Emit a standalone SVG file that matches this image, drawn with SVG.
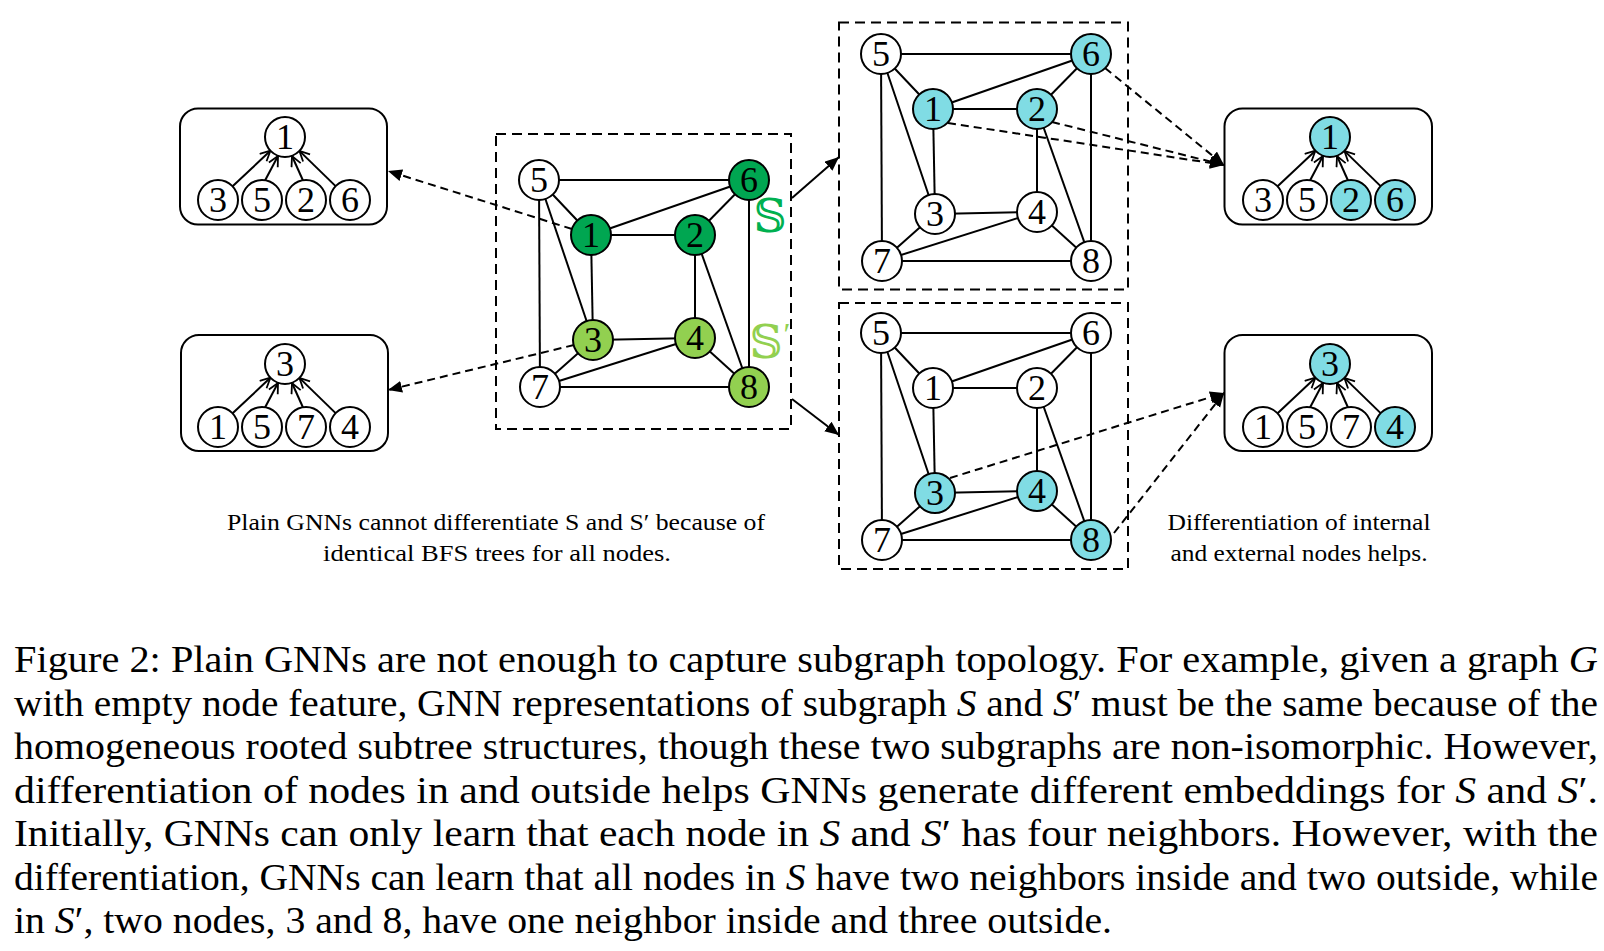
<svg xmlns="http://www.w3.org/2000/svg" width="1604" height="951" viewBox="0 0 1604 951" font-family="Liberation Serif, Tinos, Times New Roman, serif">
<style>
.n{stroke:#000;stroke-width:2;fill:#fff}
.dg{fill:#00A651}
.lg{fill:#92D050}
.cy{fill:#80DCE4}
.t{font-size:36px;text-anchor:middle;fill:#000}
.e{stroke:#000;stroke-width:2;fill:none}
.dbox{stroke:#000;stroke-width:2;fill:none;stroke-dasharray:10 6}
.tbox{stroke:#000;stroke-width:2;fill:#fff}
.da{stroke:#000;stroke-width:2;fill:none;stroke-dasharray:8 5}
.ta{stroke:#000;stroke-width:2;fill:none;marker-end:url(#open)}
.cap{font-size:38px;fill:#000}
.sub{font-size:23px;fill:#000;text-anchor:middle}
.it{font-style:italic}
</style>
<defs>
<marker id="open" markerUnits="userSpaceOnUse" markerWidth="14" markerHeight="14" refX="11" refY="6" orient="auto"><path d="M1,1 L11,6 L1,11" fill="none" stroke="#000" stroke-width="1.8"/></marker>
<marker id="fill" markerUnits="userSpaceOnUse" markerWidth="16" markerHeight="14" refX="14" refY="6" orient="auto"><path d="M0,0 L14,6 L0,12 z" fill="#000"/></marker>
</defs>

<!-- dashed frames -->
<g id="frames">
<rect class="dbox" x="496" y="134" width="295" height="295"/>
<rect class="dbox" x="839" y="22.5" width="289" height="267"/>
<rect class="dbox" x="839" y="303" width="289" height="266"/>
</g>

<!-- connectors -->
<g id="connectors">
<g id="edges-center">
<line class="e" x1="539" y1="180" x2="749" y2="180"/>
<line class="e" x1="539" y1="180" x2="591" y2="235"/>
<line class="e" x1="539" y1="180" x2="593" y2="340"/>
<line class="e" x1="539" y1="180" x2="540" y2="387"/>
<line class="e" x1="591" y1="235" x2="749" y2="180"/>
<line class="e" x1="591" y1="235" x2="695" y2="235"/>
<line class="e" x1="591" y1="235" x2="593" y2="340"/>
<line class="e" x1="695" y1="235" x2="749" y2="180"/>
<line class="e" x1="695" y1="235" x2="695" y2="338"/>
<line class="e" x1="695" y1="235" x2="749" y2="387"/>
<line class="e" x1="749" y1="180" x2="749" y2="387"/>
<line class="e" x1="593" y1="340" x2="695" y2="338"/>
<line class="e" x1="593" y1="340" x2="540" y2="387"/>
<line class="e" x1="695" y1="338" x2="540" y2="387"/>
<line class="e" x1="695" y1="338" x2="749" y2="387"/>
<line class="e" x1="540" y1="387" x2="749" y2="387"/>
</g>
<g id="edges-top">
<line class="e" x1="881" y1="54" x2="1091" y2="54"/>
<line class="e" x1="881" y1="54" x2="933" y2="109"/>
<line class="e" x1="881" y1="54" x2="935" y2="214"/>
<line class="e" x1="881" y1="54" x2="882" y2="261"/>
<line class="e" x1="933" y1="109" x2="1091" y2="54"/>
<line class="e" x1="933" y1="109" x2="1037" y2="109"/>
<line class="e" x1="933" y1="109" x2="935" y2="214"/>
<line class="e" x1="1037" y1="109" x2="1091" y2="54"/>
<line class="e" x1="1037" y1="109" x2="1037" y2="212"/>
<line class="e" x1="1037" y1="109" x2="1091" y2="261"/>
<line class="e" x1="1091" y1="54" x2="1091" y2="261"/>
<line class="e" x1="935" y1="214" x2="1037" y2="212"/>
<line class="e" x1="935" y1="214" x2="882" y2="261"/>
<line class="e" x1="1037" y1="212" x2="882" y2="261"/>
<line class="e" x1="1037" y1="212" x2="1091" y2="261"/>
<line class="e" x1="882" y1="261" x2="1091" y2="261"/>
</g>
<g id="edges-bottom">
<line class="e" x1="881" y1="333" x2="1091" y2="333"/>
<line class="e" x1="881" y1="333" x2="933" y2="388"/>
<line class="e" x1="881" y1="333" x2="935" y2="493"/>
<line class="e" x1="881" y1="333" x2="882" y2="540"/>
<line class="e" x1="933" y1="388" x2="1091" y2="333"/>
<line class="e" x1="933" y1="388" x2="1037" y2="388"/>
<line class="e" x1="933" y1="388" x2="935" y2="493"/>
<line class="e" x1="1037" y1="388" x2="1091" y2="333"/>
<line class="e" x1="1037" y1="388" x2="1037" y2="491"/>
<line class="e" x1="1037" y1="388" x2="1091" y2="540"/>
<line class="e" x1="1091" y1="333" x2="1091" y2="540"/>
<line class="e" x1="935" y1="493" x2="1037" y2="491"/>
<line class="e" x1="935" y1="493" x2="882" y2="540"/>
<line class="e" x1="1037" y1="491" x2="882" y2="540"/>
<line class="e" x1="1037" y1="491" x2="1091" y2="540"/>
<line class="e" x1="882" y1="540" x2="1091" y2="540"/>
</g>
<line class="da" x1="572" y1="229" x2="388" y2="171" marker-end="url(#fill)"/>
<line class="da" x1="574" y1="345" x2="388" y2="390" marker-end="url(#fill)"/>
<line class="da" x1="1105" y1="68" x2="1224" y2="165" marker-end="url(#fill)"/>
<line class="da" x1="948" y1="123" x2="1224" y2="165" marker-end="url(#fill)"/>
<line class="da" x1="1052" y1="122" x2="1224" y2="165" marker-end="url(#fill)"/>
<line class="da" x1="950" y1="478" x2="1224" y2="393" marker-end="url(#fill)"/>
<line class="da" x1="1114" y1="533" x2="1224" y2="393" marker-end="url(#fill)"/>
<line class="e" x1="792" y1="198" x2="839" y2="157" marker-end="url(#fill)"/>
<line class="e" x1="792" y1="399" x2="839" y2="435" marker-end="url(#fill)"/>
</g>

<!-- center graph nodes -->
<g id="c5"><circle class="n" cx="539" cy="180" r="20"/><text class="t" x="539" y="192">5</text></g>
<g id="c6"><circle class="n dg" cx="749" cy="180" r="20"/><text class="t" x="749" y="192">6</text></g>
<g id="c1"><circle class="n dg" cx="591" cy="235" r="20"/><text class="t" x="591" y="247">1</text></g>
<g id="c2"><circle class="n dg" cx="695" cy="235" r="20"/><text class="t" x="695" y="247">2</text></g>
<g id="c3"><circle class="n lg" cx="593" cy="340" r="20"/><text class="t" x="593" y="352">3</text></g>
<g id="c4"><circle class="n lg" cx="695" cy="338" r="20"/><text class="t" x="695" y="350">4</text></g>
<g id="c7"><circle class="n" cx="540" cy="387" r="20"/><text class="t" x="540" y="399">7</text></g>
<g id="c8"><circle class="n lg" cx="749" cy="387" r="20"/><text class="t" x="749" y="399">8</text></g>
<g id="labelS"><text x="770" y="232" font-family="DejaVu Serif, DejaVu Sans, serif" font-size="46" fill="#00B050" text-anchor="middle">𝕊</text></g>
<g id="labelS2"><text x="766" y="358" font-family="DejaVu Serif, DejaVu Sans, serif" font-size="46" fill="#92D050" text-anchor="middle">𝕊</text><text x="787" y="345" font-size="32" fill="#92D050" text-anchor="middle">′</text></g>

<!-- top-right graph nodes -->
<g id="t5"><circle class="n" cx="881" cy="54" r="20"/><text class="t" x="881" y="66">5</text></g>
<g id="t6"><circle class="n cy" cx="1091" cy="54" r="20"/><text class="t" x="1091" y="66">6</text></g>
<g id="t1"><circle class="n cy" cx="933" cy="109" r="20"/><text class="t" x="933" y="121">1</text></g>
<g id="t2"><circle class="n cy" cx="1037" cy="109" r="20"/><text class="t" x="1037" y="121">2</text></g>
<g id="t3"><circle class="n" cx="935" cy="214" r="20"/><text class="t" x="935" y="226">3</text></g>
<g id="t4"><circle class="n" cx="1037" cy="212" r="20"/><text class="t" x="1037" y="224">4</text></g>
<g id="t7"><circle class="n" cx="882" cy="261" r="20"/><text class="t" x="882" y="273">7</text></g>
<g id="t8"><circle class="n" cx="1091" cy="261" r="20"/><text class="t" x="1091" y="273">8</text></g>

<!-- bottom-right graph nodes -->
<g id="b5"><circle class="n" cx="881" cy="333" r="20"/><text class="t" x="881" y="345">5</text></g>
<g id="b6"><circle class="n" cx="1091" cy="333" r="20"/><text class="t" x="1091" y="345">6</text></g>
<g id="b1"><circle class="n" cx="933" cy="388" r="20"/><text class="t" x="933" y="400">1</text></g>
<g id="b2"><circle class="n" cx="1037" cy="388" r="20"/><text class="t" x="1037" y="400">2</text></g>
<g id="b3"><circle class="n cy" cx="935" cy="493" r="20"/><text class="t" x="935" y="505">3</text></g>
<g id="b4"><circle class="n cy" cx="1037" cy="491" r="20"/><text class="t" x="1037" y="503">4</text></g>
<g id="b7"><circle class="n" cx="882" cy="540" r="20"/><text class="t" x="882" y="552">7</text></g>
<g id="b8"><circle class="n cy" cx="1091" cy="540" r="20"/><text class="t" x="1091" y="552">8</text></g>

<!-- tree: top-left -->
<g id="tree-tl">
<rect class="tbox" x="180" y="108.5" width="207" height="116" rx="18"/>
<line class="ta" x1="232.6" y1="186.3" x2="270.4" y2="150.7"/>
<line class="ta" x1="265" y1="180.5" x2="278" y2="156"/>
<line class="ta" x1="303" y1="180.5" x2="292" y2="156"/>
<line class="ta" x1="335.6" y1="186.1" x2="299.4" y2="150.9"/>
<circle class="n" cx="285" cy="137" r="20"/><text class="t" x="285" y="149">1</text>
<circle class="n" cx="218" cy="200" r="20"/><text class="t" x="218" y="212">3</text>
<circle class="n" cx="262" cy="200" r="20"/><text class="t" x="262" y="212">5</text>
<circle class="n" cx="306" cy="200" r="20"/><text class="t" x="306" y="212">2</text>
<circle class="n" cx="350" cy="200" r="20"/><text class="t" x="350" y="212">6</text>
</g>
<!-- tree: bottom-left -->
<g id="tree-bl">
<rect class="tbox" x="181" y="335" width="207" height="116" rx="18"/>
<line class="ta" x1="232.6" y1="413.3" x2="270.4" y2="377.7"/>
<line class="ta" x1="265" y1="407.5" x2="278" y2="383"/>
<line class="ta" x1="303" y1="407.5" x2="292" y2="383"/>
<line class="ta" x1="335.6" y1="413.1" x2="299.4" y2="377.9"/>
<circle class="n" cx="285" cy="364" r="20"/><text class="t" x="285" y="376">3</text>
<circle class="n" cx="218" cy="427" r="20"/><text class="t" x="218" y="439">1</text>
<circle class="n" cx="262" cy="427" r="20"/><text class="t" x="262" y="439">5</text>
<circle class="n" cx="306" cy="427" r="20"/><text class="t" x="306" y="439">7</text>
<circle class="n" cx="350" cy="427" r="20"/><text class="t" x="350" y="439">4</text>
</g>
<!-- tree: top-right -->
<g id="tree-tr">
<rect class="tbox" x="1224.5" y="108.5" width="207.5" height="116" rx="18"/>
<line class="ta" x1="1277.6" y1="186.3" x2="1315.4" y2="150.7"/>
<line class="ta" x1="1310" y1="180.5" x2="1323" y2="156"/>
<line class="ta" x1="1348" y1="180.5" x2="1337" y2="156"/>
<line class="ta" x1="1380.6" y1="186.1" x2="1344.4" y2="150.9"/>
<circle class="n cy" cx="1330" cy="137" r="20"/><text class="t" x="1330" y="149">1</text>
<circle class="n" cx="1263" cy="200" r="20"/><text class="t" x="1263" y="212">3</text>
<circle class="n" cx="1307" cy="200" r="20"/><text class="t" x="1307" y="212">5</text>
<circle class="n cy" cx="1351" cy="200" r="20"/><text class="t" x="1351" y="212">2</text>
<circle class="n cy" cx="1395" cy="200" r="20"/><text class="t" x="1395" y="212">6</text>
</g>
<!-- tree: bottom-right -->
<g id="tree-br">
<rect class="tbox" x="1224.5" y="335" width="207.5" height="116" rx="18"/>
<line class="ta" x1="1277.6" y1="413.3" x2="1315.4" y2="377.7"/>
<line class="ta" x1="1310" y1="407.5" x2="1323" y2="383"/>
<line class="ta" x1="1348" y1="407.5" x2="1337" y2="383"/>
<line class="ta" x1="1380.6" y1="413.1" x2="1344.4" y2="377.9"/>
<circle class="n cy" cx="1330" cy="364" r="20"/><text class="t" x="1330" y="376">3</text>
<circle class="n" cx="1263" cy="427" r="20"/><text class="t" x="1263" y="439">1</text>
<circle class="n" cx="1307" cy="427" r="20"/><text class="t" x="1307" y="439">5</text>
<circle class="n" cx="1351" cy="427" r="20"/><text class="t" x="1351" y="439">7</text>
<circle class="n cy" cx="1395" cy="427" r="20"/><text class="t" x="1395" y="439">4</text>
</g>

<!-- sub captions -->
<g id="note-left">
<text class="sub" x="496" y="530" textLength="538" lengthAdjust="spacingAndGlyphs">Plain GNNs cannot differentiate S and S′ because of</text>
<text class="sub" x="497" y="561" textLength="348" lengthAdjust="spacingAndGlyphs">identical BFS trees for all nodes.</text>
</g>
<g id="note-right">
<text class="sub" x="1299" y="530" textLength="263" lengthAdjust="spacingAndGlyphs">Differentiation of internal</text>
<text class="sub" x="1299" y="561" textLength="257" lengthAdjust="spacingAndGlyphs">and external nodes helps.</text>
</g>

<!-- figure caption -->
<g id="caption">
<text class="cap" x="14" y="672" textLength="1584" lengthAdjust="spacingAndGlyphs">Figure 2: Plain GNNs are not enough to capture subgraph topology. For example, given a graph <tspan class="it">G</tspan></text>
<text class="cap" x="14" y="715.5" textLength="1584" lengthAdjust="spacingAndGlyphs">with empty node feature, GNN representations of subgraph <tspan class="it">S</tspan> and <tspan class="it">S</tspan>′ must be the same because of the</text>
<text class="cap" x="14" y="759" textLength="1584" lengthAdjust="spacingAndGlyphs">homogeneous rooted subtree structures, though these two subgraphs are non-isomorphic. However,</text>
<text class="cap" x="14" y="802.5" textLength="1584" lengthAdjust="spacingAndGlyphs">differentiation of nodes in and outside helps GNNs generate different embeddings for <tspan class="it">S</tspan> and <tspan class="it">S</tspan>′.</text>
<text class="cap" x="14" y="846" textLength="1584" lengthAdjust="spacingAndGlyphs">Initially, GNNs can only learn that each node in <tspan class="it">S</tspan> and <tspan class="it">S</tspan>′ has four neighbors. However, with the</text>
<text class="cap" x="14" y="889.5" textLength="1584" lengthAdjust="spacingAndGlyphs">differentiation, GNNs can learn that all nodes in <tspan class="it">S</tspan> have two neighbors inside and two outside, while</text>
<text class="cap" x="14" y="933" textLength="1098" lengthAdjust="spacingAndGlyphs">in <tspan class="it">S</tspan>′, two nodes, 3 and 8, have one neighbor inside and three outside.</text>
</g>
</svg>
